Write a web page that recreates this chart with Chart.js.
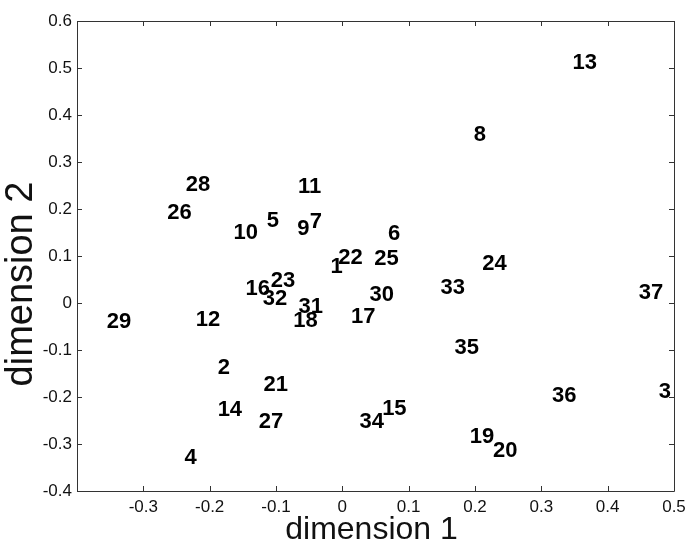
<!DOCTYPE html>
<html>
<head>
<meta charset="utf-8">
<script src="https://cdn.jsdelivr.net/npm/chart.js@4"></script>
<style>
  html, body { margin: 0; padding: 0; background: #ffffff; }
  #wrap { width: 685px; height: 543px; position: relative; }
</style>
</head>
<body>
<div id="wrap"><canvas id="c"></canvas></div>
<script>
// ---- data ----
const pointIds = ['1','2','3','4','5','6','7','8','9','10','11','12','13','14','15','16','17','18','19',
                  '20','21','22','23','24','25','26','27','28','29','30','31','32','33','34','35','36','37'];
const dim1 = [-0.018, -0.188, 0.477, -0.238, -0.114, 0.069, -0.049, 0.198, -0.068, -0.164,
              -0.067, -0.221, 0.347, -0.188, 0.060, -0.146, 0.013, -0.074, 0.192,
              0.227, -0.119, -0.006, -0.108, 0.211, 0.048, -0.264, -0.126, -0.236, -0.355,
              0.041, -0.066, -0.120, 0.148, 0.026, 0.169, 0.316, 0.447];
const dim2 = [0.077, -0.138, -0.189, -0.330, 0.175, 0.147, 0.172, 0.357, 0.158, 0.150,
              0.246, -0.036, 0.510, -0.228, -0.226, 0.029, -0.030, -0.038, -0.285,
              -0.314, -0.174, 0.095, 0.047, 0.084, 0.094, 0.191, -0.253, 0.251, -0.041,
              0.017, -0.008, 0.009, 0.033, -0.253, -0.095, -0.198, 0.021];
const xTickValues = [-0.4, -0.3, -0.2, -0.1, 0, 0.1, 0.2, 0.3, 0.4, 0.5];
const xTickLabels = ['', '-0.3', '-0.2', '-0.1', '0', '0.1', '0.2', '0.3', '0.4', '0.5'];
const yTickValues = [-0.4, -0.3, -0.2, -0.1, 0, 0.1, 0.2, 0.3, 0.4, 0.5, 0.6];
const yTickLabels = ['-0.4', '-0.3', '-0.2', '-0.1', '0', '0.1', '0.2', '0.3', '0.4', '0.5', '0.6'];
const xTitle = 'dimension 1';
const yTitle = 'dimension 2';

// ---- chart ----
const AXIS_COLOR = '#333333';
const TEXT_COLOR = '#111111';
const FONT = '"Liberation Sans", Arial, Helvetica, sans-serif';

const points = dim1.map((x, i) => ({ x: x, y: dim2[i] }));

const labelPlugin = {
  id: 'pointLabels',
  afterDatasetsDraw(chart) {
    const ctx = chart.ctx;
    const meta = chart.getDatasetMeta(0);
    ctx.save();
    ctx.font = 'bold 22px ' + FONT;
    ctx.fillStyle = '#000000';
    ctx.textAlign = 'left';
    ctx.textBaseline = 'middle';
    meta.data.forEach((el, i) => {
      ctx.fillText(pointIds[i], el.x, el.y);
    });
    ctx.restore();
  }
};

const framePlugin = {
  id: 'frame',
  afterDraw(chart) {
    const ctx = chart.ctx;
    const a = chart.chartArea;
    const xs = chart.scales.x, ys = chart.scales.y;
    const tl = 5;
    ctx.save();
    ctx.strokeStyle = AXIS_COLOR;
    ctx.lineWidth = 1;
    ctx.beginPath();
    ctx.rect(Math.round(a.left) + 0.5, Math.round(a.top) + 0.5,
             Math.round(a.right - a.left), Math.round(a.bottom - a.top));
    xTickValues.forEach(v => {
      const px = Math.round(xs.getPixelForValue(v)) + 0.5;
      ctx.moveTo(px, a.bottom); ctx.lineTo(px, a.bottom - tl);
      ctx.moveTo(px, a.top); ctx.lineTo(px, a.top + tl);
    });
    yTickValues.forEach(v => {
      const py = Math.round(ys.getPixelForValue(v)) + 0.5;
      ctx.moveTo(a.left, py); ctx.lineTo(a.left + tl, py);
      ctx.moveTo(a.right, py); ctx.lineTo(a.right - tl, py);
    });
    ctx.stroke();

    // axis titles
    ctx.fillStyle = TEXT_COLOR;
    ctx.textAlign = 'center';
    ctx.textBaseline = 'middle';
    ctx.font = '32px ' + FONT;
    ctx.fillText(xTitle, (a.left + a.right) / 2 - 4, 530);
    ctx.save();
    ctx.translate(22, (a.top + a.bottom) / 2 + 28);
    ctx.rotate(-Math.PI / 2);
    ctx.font = '38px ' + FONT;
    ctx.fillText(yTitle, 0, 0);
    ctx.restore();
    ctx.restore();
  }
};

new Chart(document.getElementById('c'), {
  type: 'scatter',
  data: {
    datasets: [{
      data: points,
      pointRadius: 0,
      pointHoverRadius: 0,
      showLine: false
    }]
  },
  options: {
    responsive: true,
    maintainAspectRatio: false,
    animation: false,
    events: [],
    layout: { padding: { left: 0, top: 21, right: 11, bottom: 0 } },
    plugins: {
      legend: { display: false },
      tooltip: { enabled: false },
      title: { display: false }
    },
    scales: {
      x: {
        type: 'linear',
        min: -0.4, max: 0.5,
        grid: { display: false, drawTicks: false },
        border: { display: false },
        afterBuildTicks(scale) { scale.ticks = xTickValues.map(v => ({ value: v })); },
        afterFit(scale) { scale.height = 52; scale.paddingLeft = 0; scale.paddingRight = 0; },
        ticks: {
          padding: 6,
          color: TEXT_COLOR,
          font: { family: FONT, size: 17 },
          maxRotation: 0,
          autoSkip: false,
          callback: (v) => { const i = xTickValues.findIndex(t => Math.abs(t - v) < 1e-9); return i >= 0 ? xTickLabels[i] : ''; }
        }
      },
      y: {
        type: 'linear',
        min: -0.4, max: 0.6,
        grid: { display: false, drawTicks: false },
        border: { display: false },
        afterBuildTicks(scale) { scale.ticks = yTickValues.map(v => ({ value: v })); },
        afterFit(scale) { scale.width = 77; scale.paddingTop = 0; scale.paddingBottom = 0; },
        ticks: {
          padding: 5,
          color: TEXT_COLOR,
          font: { family: FONT, size: 17 },
          autoSkip: false,
          callback: (v) => { const i = yTickValues.findIndex(t => Math.abs(t - v) < 1e-9); return i >= 0 ? yTickLabels[i] : ''; }
        }
      }
    }
  },
  plugins: [labelPlugin, framePlugin]
});
</script>
</body>
</html>
